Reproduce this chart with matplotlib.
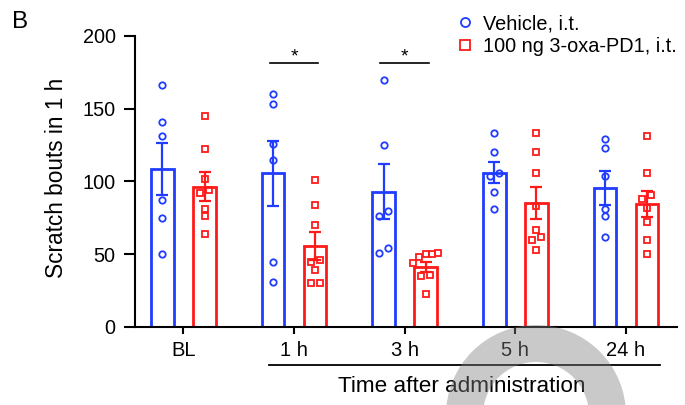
import numpy as np
import matplotlib.pyplot as plt
from matplotlib.lines import Line2D
from matplotlib.patches import Wedge
import matplotlib.transforms as mtransforms

plt.rcParams['font.family'] = ['Liberation Sans', 'DejaVu Sans']

# Datos
groups = ['BL', '1 h', '3 h', '5 h', '24 h']
labels = ['Vehicle, i.t.', '100 ng 3-oxa-PD1, i.t.']

vehicle_points = [[166, 141, 131, 87, 75, 50],
                  [160, 153, 126, 115, 45, 31],
                  [170, 125, 80, 76, 54, 51],
                  [133, 120, 106, 104, 93, 81],
                  [129, 123, 104, 81, 76, 62]]
oxa_points = [[145, 122, 102, 94, 92, 81, 76, 64],
              [101, 84, 70, 46, 45, 39, 30, 30],
              [51, 50, 50, 48, 44, 36, 35, 23],
              [133, 120, 106, 83, 67, 62, 60, 53],
              [131, 106, 91, 88, 82, 72, 60, 50]]
vehicle_mean = [108.5, 105.5, 93, 106, 95.5]
vehicle_sem = [18, 22, 18.7, 7.3, 11.4]
oxa_mean = [96.5, 55.5, 41.5, 85, 84.5]
oxa_sem = [9.7, 9.5, 3.5, 10.9, 9.2]
signif_groups = [1, 2]
signif_y = 181.5

blue = '#1f3cff'
red = '#ff1a1a'


def swarm(vals, px_per_y, px_per_x, thresh=6.1, step=9.0):
    # agrupa puntos cercanos en vertical y los reparte simétricamente
    vals = np.asarray(vals, dtype=float)
    order = np.argsort(vals)
    offs = np.zeros(len(vals))
    clusters = [[order[0]]]
    for i in order[1:]:
        if (vals[i] - vals[clusters[-1][-1]]) * px_per_y < thresh:
            clusters[-1].append(i)
        else:
            clusters.append([i])
    for c in clusters:
        n = len(c)
        s = step if n <= 2 else step * 0.7
        for k, i in enumerate(c):
            offs[i] = (k - (n - 1) / 2) * s / px_per_x
    return offs


fig = plt.figure(figsize=(6.85, 4.05), dpi=100)
ax = fig.add_axes([135 / 685, 78 / 405, 542 / 685, 291 / 405])
ax.set_ylim(0, 200)
ax.set_xlim(-0.4385, 4.462)

x = np.arange(len(groups))
off = 0.19
px_per_x = 542 / (4.462 + 0.4385)
px_per_y = 291 / 200

for pts, mean, sem, col, sgn, mk, ms in [
        (vehicle_points, vehicle_mean, vehicle_sem, blue, -1, 'o', 4.6),
        (oxa_points, oxa_mean, oxa_sem, red, 1, 's', 4.8)]:
    xc = x + sgn * off
    ax.bar(xc, mean, width=0.205, facecolor='none', edgecolor=col,
           linewidth=2.0, zorder=2)
    ax.errorbar(xc, mean, yerr=sem, fmt='none', ecolor=col, elinewidth=1.6,
                capsize=4, capthick=1.6, zorder=3)
    for g in range(len(groups)):
        o = swarm(pts[g], px_per_y, px_per_x)
        ax.plot(xc[g] + o, pts[g], mk, mfc='none', mec=col, ms=ms,
                mew=1.3, ls='none', zorder=4, clip_on=False)

# marcas de significancia
for g in signif_groups:
    ax.plot([g - 0.22, g + 0.22], [signif_y, signif_y], color='black', lw=1.2,
            clip_on=False)
    ax.text(g, signif_y + 1, '*', ha='center', va='baseline', fontsize=14)

ax.set_xticks(x)
ax.set_xticklabels(groups)
ax.set_yticks([0, 50, 100, 150, 200])
ax.set_ylabel('Scratch bouts in 1 h', fontsize=16.3)
ax.yaxis.set_label_coords(-0.124, 0.514)
for s in ['top', 'right']:
    ax.spines[s].set_visible(False)
for s in ['left', 'bottom']:
    ax.spines[s].set_linewidth(1.5)
ax.tick_params(axis='y', length=8, width=1.5, pad=6, labelsize=14.3)
ax.tick_params(axis='x', length=5, width=1.5, pad=5, labelsize=14.5)

# línea bajo los tiempos tras la administración
trans = mtransforms.blended_transform_factory(ax.transData, ax.transAxes)
ax.plot([0.776, 4.308], [-0.1306, -0.1306], color='black', lw=1.3,
        transform=trans, clip_on=False)
ax.text((0.776 + 4.308) / 2 - 0.03, -0.203, 'Time after administration',
        ha='center', va='center', fontsize=16.2, transform=trans)

handles = [Line2D([], [], marker='o', ls='none', mfc='none', mec=blue, ms=6.5, mew=1.3),
           Line2D([], [], marker='s', ls='none', mfc='none', mec=red, ms=6.5, mew=1.3)]
fig.legend(handles, labels, loc='upper left', bbox_to_anchor=(455 / 685, 1 - 14 / 405),
           frameon=False, fontsize=14.3, handlelength=1.0, handletextpad=0.42,
           labelspacing=0.22, borderpad=0, borderaxespad=0)

fig.text(12 / 685, 1 - 11 / 405, 'B', fontsize=17.5, ha='left', va='top')

# arco gris semitransparente sobre la parte inferior
pix = mtransforms.Affine2D().scale(1 / 685, 1 / 405) + fig.transFigure
arc = Wedge((536, -10), 90, 0, 180, width=37, transform=pix,
            facecolor=(0.5, 0.5, 0.5), edgecolor='none', alpha=0.42, zorder=10)
fig.add_artist(arc)

fig.savefig('out.png', dpi=100)
